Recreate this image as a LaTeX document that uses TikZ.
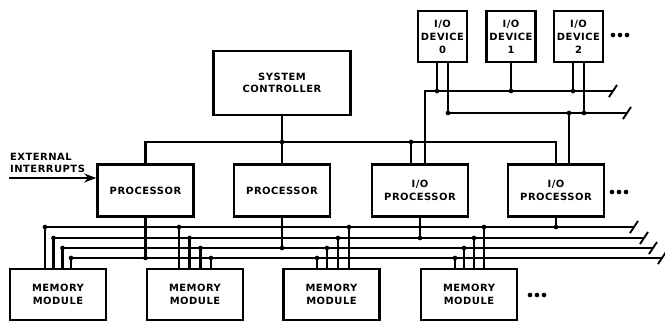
\documentclass[tikz,border=0pt]{standalone}
\usepackage{fontspec}
\setmainfont[LetterSpace=5]{DejaVu Sans}
\usetikzlibrary{arrows.meta, calc}

\begin{document}
\begin{tikzpicture}[x=0.03cm, y=-0.03cm, >=Stealth, line width=2pt,
  lbl/.style={font=\fontsize{8.5}{10.5}\selectfont\bfseries},
  box/.style={lbl, draw, line width=2.2pt, inner sep=0pt, align=center},
  unitbox/.style={box, minimum width=2.88cm, minimum height=1.56cm},
  devbox/.style={box, minimum width=1.47cm, minimum height=1.53cm,
    font=\fontsize{8.5}{11}\selectfont\bfseries},
  cut/.style={line width=1.6pt}]
  \useasboundingbox (0,0) rectangle (665,322);
  % Units
  \node[box, minimum width=4.11cm, minimum height=1.92cm] (ctrl) at (282,83) {SYSTEM\\CONTROLLER};
  \node[devbox] (dev0) at (442.5,36.5) {I/O\\DEVICE\\0};
  \node[devbox] (dev1) at (511,36.5) {I/O\\DEVICE\\1};
  \node[devbox] (dev2) at (578.5,36.5) {I/O\\DEVICE\\2};
  \node[unitbox] (proc1) at (145.5,190.5) {PROCESSOR};
  \node[unitbox] (proc2) at (282,190.5) {PROCESSOR};
  \node[unitbox] (iop1) at (420,190.5) {I/O\\PROCESSOR};
  \node[unitbox] (iop2) at (556,190.5) {I/O\\PROCESSOR};
  \foreach \i/\x in {1/58, 2/195, 3/331.5, 4/469}
    \node[unitbox, minimum height=1.53cm] (mem\i) at (\x,294.5) {MEMORY\\MODULE};
  % Bus levels
  \coordinate (io1) at (0,91);
  \coordinate (io2) at (0,113);
  \coordinate (ub) at (0,142);
  \foreach \i/\y in {1/227, 2/238, 3/248, 4/258}
    \coordinate (m\i) at (0,\y);
  % Controller bus
  \draw (proc1.north) |- (ub -| iop2.north) -- (iop2.north);
  \draw (ctrl.south) -- (proc2.north);
  \fill (ctrl.south |- ub) circle[radius=2pt];
  \coordinate (iopa) at ($(iop1.north)+(-9,0)$);
  \draw (iopa) -- (iopa |- ub);
  \fill (iopa |- ub) circle[radius=2pt];
  % I/O buses
  \coordinate (io1end) at ($(io1)+(613,0)$);
  \coordinate (io2end) at ($(io2)+(627,0)$);
  \draw ($(iop1.north)+(5,0)$) |- (io1end);
  \coordinate (dev0b) at ($(dev0.south)+(5.5,0)$);
  \draw (dev0b) |- (io2end);
  \fill (dev0b |- io2) circle[radius=2pt];
  \foreach \d/\dx/\b in {dev0/-5.5/io1, dev1/0/io1, dev2/-5.5/io1, dev2/5.5/io2} {
    \coordinate (tap) at ($(\d.south)+(\dx,0)$);
    \draw (tap) -- (tap |- \b);
    \fill (tap |- \b) circle[radius=2pt];
  }
  \coordinate (iopb) at ($(iop2.north)+(13,0)$);
  \draw (iopb) -- (iopb |- io2);
  \fill (iopb |- io2) circle[radius=2pt];
  \foreach \e in {io1end, io2end}
    \draw[cut] ($(\e)+(-4,6)$) -- ($(\e)+(4,-6)$);
  % Memory buses
  \foreach \i/\dx/\r in {1/-13/634, 2/-4.5/644, 3/4.5/653, 4/13/662} {
    \coordinate (mL\i) at ($(mem1.north)+(\dx,0)$);
    \coordinate (mR\i) at ($(m\i)+(\r,0)$);
    \draw (mL\i) |- (mR\i);
    \fill (mL\i |- m\i) circle[radius=2pt];
    \draw[cut] ($(mR\i)+(-4,6)$) -- ($(mR\i)+(4,-6)$);
  }
  % Module taps
  \foreach \m/\dx/\b in {2/-16/1, 2/-5.5/2, 2/5.5/3, 2/16/4,
                         3/17.5/1, 3/6.5/2, 3/-4.5/3, 3/-14.5/4,
                         4/15/1, 4/5/2, 4/-5/3, 4/-14/4} {
    \coordinate (tap) at ($(mem\m.north)+(\dx,0)$);
    \draw (tap) -- (tap |- m\b);
    \fill (tap |- m\b) circle[radius=2pt];
  }
  % Processor taps
  \foreach \u/\b in {proc1/4, proc2/3, iop1/2, iop2/1} {
    \draw (\u.south) -- (\u.south |- m\b);
    \fill (\u.south |- m\b) circle[radius=2pt];
  }
  % External interrupts
  \coordinate (extin) at (9,178);
  \node[lbl, anchor=south west, inner sep=0pt, align=left] (ext) at (9,174) {EXTERNAL\\INTERRUPTS};
  \draw[->, line width=1.6pt] (extin) -- (extin -| proc1.west);
  % More units
  \foreach \x/\y in {613/35, 620/35, 627/35, 612/192, 619/192, 626/192,
                     530/295, 537/295, 544/295}
    \fill (\x,\y) circle[radius=2pt];
\end{tikzpicture}
\end{document}
